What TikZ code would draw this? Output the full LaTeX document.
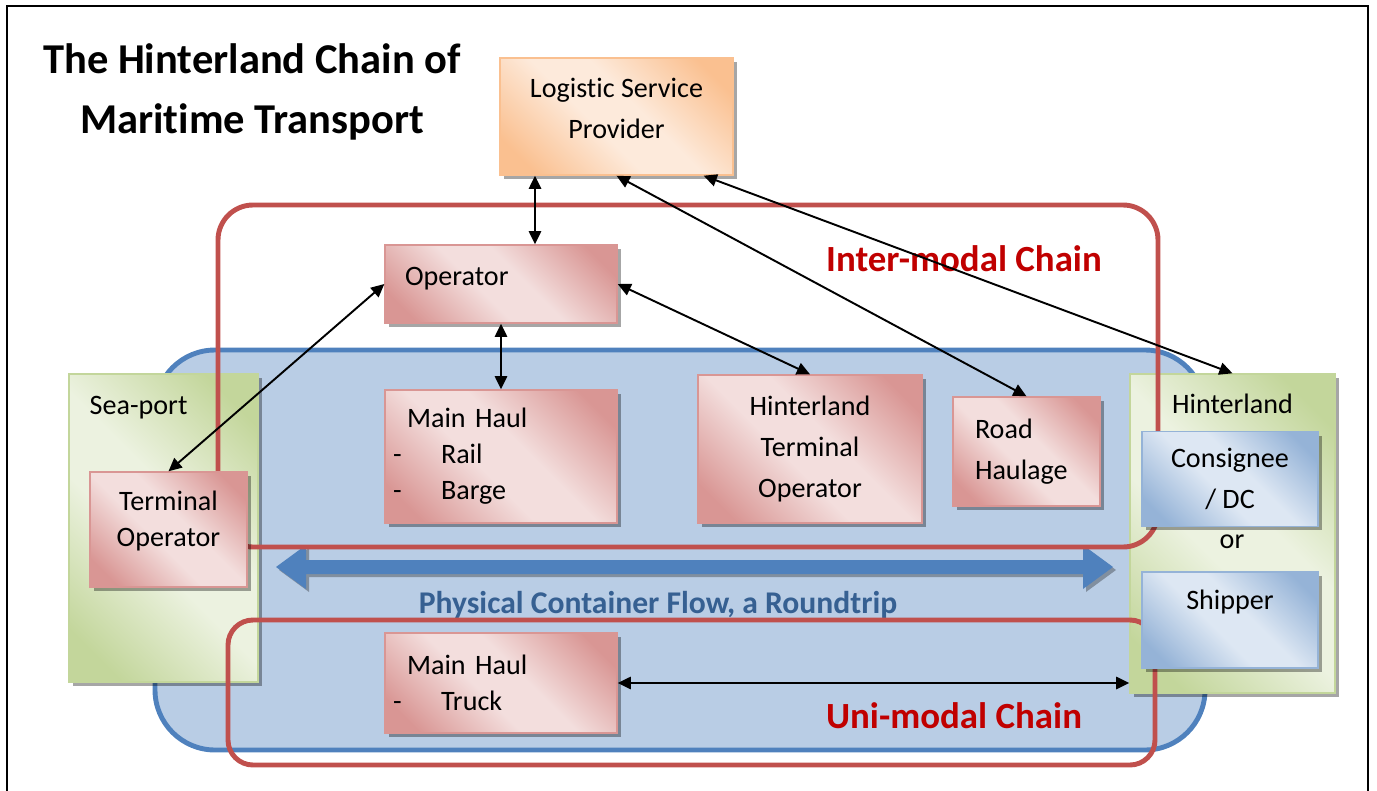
\documentclass[tikz,border=0pt]{standalone}
\usepackage{fontspec}
\setmainfont{Carlito}[Ligatures=NoCommon]
\usetikzlibrary{shadows,arrows.meta}
\definecolor{chainred}{RGB}{192,80,77}
\definecolor{darkred}{RGB}{192,0,0}
\definecolor{flowblue}{RGB}{79,129,189}
\definecolor{flowfill}{RGB}{185,205,229}
\definecolor{flowtext}{RGB}{54,96,146}
\definecolor{redD}{RGB}{217,150,148}
\definecolor{redL}{RGB}{243,222,221}
\definecolor{greenD}{RGB}{195,214,155}
\definecolor{greenL}{RGB}{236,242,224}
\definecolor{blueD}{RGB}{149,179,215}
\definecolor{blueL}{RGB}{221,231,243}
\definecolor{orangeD}{RGB}{250,192,144}
\definecolor{orangeL}{RGB}{253,234,219}
\pgfdeclarehorizontalshading{redgrad}{100bp}{color(0bp)=(redD); color(22bp)=(redD); color(44bp)=(redL); color(56bp)=(redL); color(78bp)=(redD); color(100bp)=(redD)}
\pgfdeclarehorizontalshading{greengrad}{100bp}{color(0bp)=(greenD); color(22bp)=(greenD); color(44bp)=(greenL); color(56bp)=(greenL); color(78bp)=(greenD); color(100bp)=(greenD)}
\pgfdeclarehorizontalshading{bluegrad}{100bp}{color(0bp)=(blueD); color(22bp)=(blueD); color(44bp)=(blueL); color(56bp)=(blueL); color(78bp)=(blueD); color(100bp)=(blueD)}
\pgfdeclarehorizontalshading{orangegrad}{100bp}{color(0bp)=(orangeD); color(22bp)=(orangeD); color(44bp)=(orangeL); color(56bp)=(orangeL); color(78bp)=(orangeD); color(100bp)=(orangeD)}
\begin{document}
\begin{tikzpicture}[x=0.02cm, y=-0.02cm,
	txt/.style={font=\fontsize{16}{23.5}\selectfont},
	box/.style={txt, draw, line width=0.8pt, shading angle=45, drop shadow={shadow xshift=0.08cm, shadow yshift=-0.08cm, fill=black, opacity=0.35}},
	redbox/.style={box, draw=redD, shading=redgrad},
	greenbox/.style={box, draw=greenD, shading=greengrad},
	bluebox/.style={box, draw=blueD, shading=bluegrad},
	chain/.style={draw=chainred, line width=2.8pt, rounded corners=#1},
	link/.style={<->, >={Triangle[length=7.5pt, width=7pt]}, line width=1.1pt}]
	\useasboundingbox (0,0) rectangle (1377,791);
	% Frame
	\draw[line width=1.2pt] (7,800) -- (7,6) -- (1368,6) -- (1368,800);
	\node[font=\fontsize{24.2}{34}\selectfont\bfseries, align=center] (title) at (252,92) {The Hinterland Chain of\\Maritime Transport};
	% Container flow
	\draw[flowblue, fill=flowfill, line width=2.8pt, rounded corners=1.2cm] (155,350) rectangle (1205,750);
	\node[greenbox, minimum width=3.78cm, minimum height=6.16cm, label={[txt, anchor=north west, inner sep=0pt, xshift=0.42cm, yshift=-0.45cm]north west:Sea-port}] (seaport) at (163.5,528) {};
	\node[greenbox, minimum width=4.1cm, minimum height=6.38cm, label={[txt, anchor=north, inner sep=0pt, yshift=-0.4cm]north:Hinterland}] (hinter) at (1232.5,533.5) {};
	\fill[flowblue, drop shadow={shadow xshift=0.06cm, shadow yshift=-0.06cm, fill=black, opacity=0.3}]
		(276,567) -- (306,545) -- (306,560) -- (1083,560) -- (1083,545) -- (1113,567)
		-- (1083,589) -- (1083,574) -- (306,574) -- (306,589) -- cycle;
	\node[font=\fontsize{18}{22}\selectfont\bfseries, text=flowtext] (flow) at (658,605) {Physical Container Flow, a Roundtrip};
	% Chains
	\draw[chain=0.7cm] (218,205) rectangle (1158,547);
	\draw[chain=0.5cm] (228,620) rectangle (1155,765);
	\node[font=\fontsize{21}{25}\selectfont\bfseries, text=darkred] (inter) at (964,259) {Inter-modal Chain};
	\node[font=\fontsize{21}{25}\selectfont\bfseries, text=darkred] (uni) at (954,716) {Uni-modal Chain};
	% Actors
	\node[box, draw=orangeD, shading=orangegrad, minimum width=4.66cm, minimum height=2.34cm, text depth=0.32cm, align=center] (lsp) at (616.5,116.5) {Logistic Service\\Provider};
	\node[redbox, minimum height=1.56cm, inner xsep=0.4cm, text width=3.84cm, text depth=0.3cm, align=left] (oper) at (501,284) {Operator};
	\node[redbox, font=\fontsize{16}{20.5}\selectfont, minimum height=2.66cm, inner xsep=0.16cm, text width=4.32cm, align=left] (mainhaul) at (501,456.5)
		{\hspace*{0.28cm}Main Haul\\\makebox[0.96cm][l]{-}Rail\\\makebox[0.96cm][l]{-}Barge};
	\node[redbox, minimum width=4.48cm, minimum height=2.96cm, align=center] (hto) at (810,449) {Hinterland\\Terminal\\Operator};
	\node[redbox, minimum height=2.18cm, inner xsep=0.44cm, text width=2.06cm, align=left] (road) at (1026.5,451.5) {Road\\Haulage};
	\node[redbox, font=\fontsize{16}{20.5}\selectfont, minimum width=3.14cm, minimum height=2.3cm, text depth=0.42cm, align=center] (termop) at (168.5,529.5) {Terminal\\Operator};
	\node[redbox, font=\fontsize{16}{20.5}\selectfont, minimum height=2cm, inner xsep=0.16cm, text width=4.32cm, align=left] (truck) at (501,683)
		{\hspace*{0.28cm}Main Haul\\\makebox[0.96cm][l]{-}Truck};
	\node[bluebox, minimum width=3.52cm, minimum height=1.9cm, align=center] (consig) at (1230,479) {Consignee\\/ DC};
	\node[txt] (or) at (1232,542) {or};
	\node[bluebox, minimum width=3.52cm, minimum height=1.92cm, align=center] (shipper) at (1230,620) {Shipper\\\mbox{}};
	% Links
	\draw[link] ([xshift=-1.63cm]lsp.south) -- ([xshift=0.68cm]oper.north);
	\draw[link] (oper.west) -- (termop.north);
	\draw[link] (oper.south) -- (mainhaul.north);
	\draw[link] (oper.east) -- (hto.north);
	\draw[link] (lsp.south) -- (road.north);
	\draw[link] ([xshift=-0.6cm]lsp.south east) -- (hinter.north);
	\draw[link] (truck.east) -- (truck.east -| hinter.west);
\end{tikzpicture}
\end{document}
